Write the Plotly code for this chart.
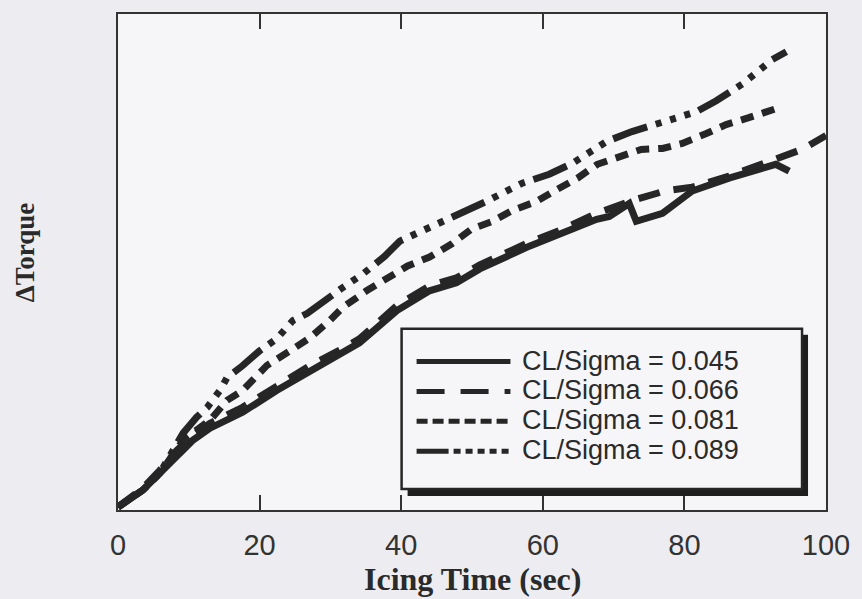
import plotly.graph_objects as go

# ---------------- data ----------------
labels = ["CL/Sigma = 0.045", "CL/Sigma = 0.066", "CL/Sigma = 0.081", "CL/Sigma = 0.089"]

t_045 = [0, 3.5, 5.9, 8.3, 10.6, 13.0, 17.6, 22.4, 27.1, 31.7, 34.1, 39.4, 44.0, 47.8,
         51.1, 58.1, 62.8, 67.6, 69.4, 72.2, 73.2, 76.9, 81.1, 86.3, 92.9, 94.8]
dq_045 = [0.6, 4.0, 7.4, 11.0, 14.1, 16.5, 19.7, 24.1, 28.1, 31.7, 33.7, 40.2, 44.2, 45.8,
          48.6, 53.2, 55.8, 58.6, 59.2, 61.8, 58.2, 59.8, 64.3, 66.9, 69.7, 68.3]

t_066 = [0, 3.5, 5.9, 8.3, 10.6, 13.0, 17.6, 22.4, 27.1, 31.7, 34.1, 39.4, 44.0, 47.8,
         51.1, 58.1, 62.8, 67.6, 72.2, 77.2, 81.1, 86.3, 92.9, 96.6, 100.0]
dq_066 = [0.6, 4.4, 8.0, 12.0, 15.1, 17.5, 20.7, 25.1, 29.1, 32.5, 34.5, 41.2, 45.2, 46.8,
          49.4, 54.0, 56.6, 59.8, 62.2, 64.3, 65.1, 67.3, 70.7, 72.7, 75.5]

t_081 = [0, 3.5, 5.9, 9.2, 13.0, 15.4, 17.6, 21.0, 24.3, 27.1, 29.9, 31.7, 35.1, 38.1,
         40.9, 44.0, 47.1, 49.9, 52.9, 55.7, 59.1, 62.1, 64.9, 67.7, 70.8, 73.9, 76.9,
         79.7, 83.1, 85.9, 89.1, 92.9]
dq_081 = [0.6, 4.0, 7.4, 14.1, 18.1, 22.1, 24.1, 29.1, 32.1, 34.7, 38.2, 40.8, 44.2, 46.6,
          49.2, 51.0, 53.6, 56.6, 58.2, 60.4, 62.2, 64.7, 66.9, 69.7, 71.3, 72.7, 72.9,
          73.9, 75.9, 77.7, 79.1, 80.9]

t_089 = [0, 3.5, 5.9, 9.2, 11.1, 12.6, 14.4, 15.4, 17.6, 20.0, 22.4, 24.7, 26.7, 28.5,
         31.7, 34.6, 37.7, 39.8, 45.4, 48.7, 52.0, 57.1, 60.9, 64.2, 69.0, 72.6, 76.0,
         81.7, 84.5, 88.2, 92.4, 94.4]
dq_089 = [0.6, 4.0, 7.4, 15.5, 18.7, 20.7, 24.1, 26.7, 29.1, 32.1, 34.5, 38.2, 39.6, 41.6,
          44.8, 47.6, 51.2, 54.2, 57.8, 59.8, 62.2, 65.9, 67.7, 69.9, 74.3, 76.3, 77.9,
          80.3, 82.5, 85.9, 90.8, 92.4]

x_ticks = [0, 20, 40, 60, 80, 100]

series_t = [t_045, t_066, t_081, t_089]
series_dq = [dq_045, dq_066, dq_081, dq_089]

# ---------------- styles ----------------
INK = "#262626"
FRAME = "#333333"
PLOT_BG = "#f6f6f8"
PAPER_BG = "#ededf1"
curve_dash = ["solid", "22px,14px", "13px,9px", "36px,9px,6px,9px,6px,9px,6px,9px"]
legend_dash = ["solid", "28px,16px", "11px,5px",
               "32px,5px,7px,5px,7px,5px,7px,5px,7px,5px,7px,5px"]

W, H = 862, 599
ML, MR, MT, MB = 118, 35, 12, 89
PW, PH = W - ML - MR, H - MT - MB


def px2paper(px, py):
    return (px - ML) / PW, (H - MB - py) / PH


fig = go.Figure()
for name, t, dq, dash in zip(labels, series_t, series_dq, curve_dash):
    fig.add_trace(go.Scatter(x=t, y=dq, mode="lines", name=name,
                             line=dict(color=INK, width=7, dash=dash),
                             showlegend=False))

# ---------------- legend box drawn like the original (with drop shadow) ----------------
shapes = []
x0, y0 = px2paper(408, 496)
x1, y1 = px2paper(809, 334)
shapes.append(dict(type="rect", xref="paper", yref="paper", x0=x0, y0=y0, x1=x1, y1=y1,
                   fillcolor="#1e1e1e", line=dict(width=0), layer="above"))
x0, y0 = px2paper(402, 489)
x1, y1 = px2paper(803, 328)
shapes.append(dict(type="rect", xref="paper", yref="paper", x0=x0, y0=y0, x1=x1, y1=y1,
                   fillcolor=PLOT_BG, line=dict(color=INK, width=2.5), layer="above"))

row_y = [360, 390, 420, 450]
annotations = []
for name, dash, ry in zip(labels, legend_dash, row_y):
    lx0, ly = px2paper(417, ry + 1)
    lx1, _ = px2paper(511, ry + 1)
    shapes.append(dict(type="line", xref="paper", yref="paper", x0=lx0, x1=lx1, y0=ly, y1=ly,
                       line=dict(color=INK, width=5, dash=dash), layer="above"))
    tx, ty = px2paper(521, ry)
    annotations.append(dict(xref="paper", yref="paper", x=tx, y=ty, text=name,
                            showarrow=False, xanchor="left", yanchor="middle",
                            font=dict(family="Liberation Sans, Arial, sans-serif",
                                      size=27, color="#2a2a2a")))

# axis titles
tx, ty = px2paper(25, 252)
annotations.append(dict(xref="paper", yref="paper", x=tx, y=ty, text="<b>ΔTorque</b>",
                        textangle=-90, showarrow=False, xanchor="center", yanchor="middle",
                        font=dict(family="Liberation Serif, Times New Roman, serif",
                                  size=27, color="#2a2a2a")))
tx, ty = px2paper(473, 579)
annotations.append(dict(xref="paper", yref="paper", x=tx, y=ty,
                        text="<b>Icing Time (sec)</b>",
                        showarrow=False, xanchor="center", yanchor="middle",
                        font=dict(family="Liberation Serif, Times New Roman, serif",
                                  size=32, color="#2a2a2a")))

fig.update_layout(
    width=W, height=H,
    margin=dict(l=ML, r=MR, t=MT, b=MB, pad=0),
    paper_bgcolor=PAPER_BG, plot_bgcolor=PLOT_BG,
    shapes=shapes, annotations=annotations,
    xaxis=dict(range=[0, 100], tickvals=x_ticks, ticktext=[str(v) for v in x_ticks],
               ticks="inside", ticklen=15, tickwidth=2, tickcolor=FRAME,
               showline=True, linewidth=2, linecolor=FRAME, mirror="ticks",
               showgrid=False, zeroline=False, ticklabelstandoff=8,
               tickfont=dict(family="Liberation Sans, Arial, sans-serif", size=29,
                             color="#333333")),
    yaxis=dict(range=[0, 100], showticklabels=False, ticks="",
               showline=True, linewidth=2, linecolor=FRAME, mirror=True,
               showgrid=False, zeroline=False),
)

fig.write_html("out.html")
